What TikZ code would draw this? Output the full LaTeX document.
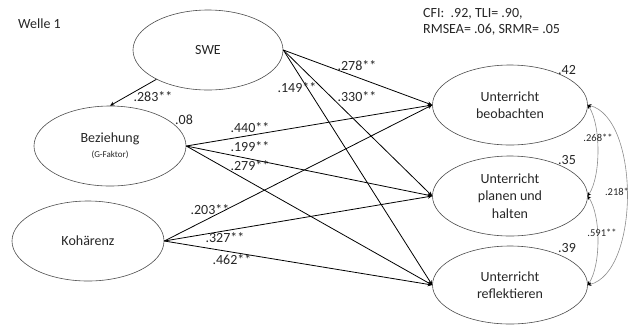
\documentclass[tikz,border=0pt]{standalone}
\usepackage{fontspec}
\setmainfont{Carlito}
\usetikzlibrary{shapes.geometric,arrows.meta}
\begin{document}
\begin{tikzpicture}[x=1pt,y=-1pt,
  lat/.style={ellipse,draw=black!70,line width=0.6pt,inner sep=0pt,align=center,
    font=\fontsize{14}{17.5}\selectfont,text=black!85},
  pth/.style={draw=black,line width=0.8pt,-{Stealth[length=4.5pt,width=4pt]}},
  cov/.style={draw=black!45,line width=0.6pt,
    {Stealth[length=3.5pt,width=3.5pt,black]}-{Stealth[length=3.5pt,width=3.5pt,black]}},
  lab/.style={font=\fontsize{14}{16}\selectfont,inner sep=0pt,text=black!85},
  slab/.style={font=\fontsize{10.5}{12}\selectfont,inner sep=0pt,text=black!85}]
\useasboundingbox (0,0) rectangle (628,325);
% latent variables
\node[lat,minimum width=150,minimum height=80] (swe) at (208,50) {SWE};
\node[lat,minimum width=152,minimum height=80] (bez) at (110,146)
  {Beziehung\\[-3pt]{\fontsize{9}{10}\selectfont (G-Faktor)}};
\node[lat,minimum width=152,minimum height=80] (koh) at (88,241) {Kohärenz};
\node[lat,minimum width=155,minimum height=80] (beo) at (510,105) {Unterricht\\beobachten};
\node[lat,minimum width=155,minimum height=80] (pla) at (510,196) {Unterricht\\planen und\\halten};
\node[lat,minimum width=155,minimum height=78] (ref) at (510,285) {Unterricht\\reflektieren};
% titles
\node[lab,anchor=west] (welle) at (18,24) {Welle 1};
\node[lab,anchor=west,align=left] (fit) at (423,21.5) {CFI:\ \ .92, TLI= .90,\\RMSEA= .06, SRMR= .05};
% paths
\draw[pth] (swe) -- (bez.north);
\draw[pth] (swe.east) -- (beo.west);
\draw[pth] (swe.east) -- (pla.west);
\draw[pth] (swe.east) -- (ref.west);
\draw[pth] (bez.east) -- (beo.west);
\draw[pth] (bez.east) -- (pla.west);
\draw[pth] (bez.east) -- (ref.west);
\draw[pth] (koh.east) -- (beo.west);
\draw[pth] (koh.east) -- (pla.west);
\draw[pth] (koh.east) -- (ref.west);
% covariances
\draw[cov] (beo.east) .. controls (601,125) and (601,176) .. (pla.east);
\draw[cov] (pla.east) .. controls (601,216) and (601,265) .. (ref.east);
\draw[cov] (beo.east) .. controls (640,118) and (640,272) .. (ref.east);
% coefficient labels
\node[lab] (l283) at (153,97) {.283**};
\node[lab] (r08) at (184,120) {.08};
\node[lab] (l440) at (250,128) {.440**};
\node[lab] (l199) at (250,147) {.199**};
\node[lab] (l279) at (250,166) {.279**};
\node[lab] (l149) at (297,88) {.149**};
\node[lab] (l278) at (357,66) {.278**};
\node[lab] (l330) at (357,97) {.330**};
\node[lab] (r42) at (567,70) {.42};
\node[lab] (r35) at (567,160) {.35};
\node[lab] (r39) at (567,248) {.39};
\node[lab] (l203) at (210,210) {.203**};
\node[lab] (l327) at (225,238) {.327**};
\node[lab] (l462) at (232,260) {.462**};
\node[slab] (c268) at (598,138) {.268**};
\node[slab] (c218) at (617,192) {.218*};
\node[slab] (c591) at (602,233) {.591**};
\end{tikzpicture}
\end{document}
